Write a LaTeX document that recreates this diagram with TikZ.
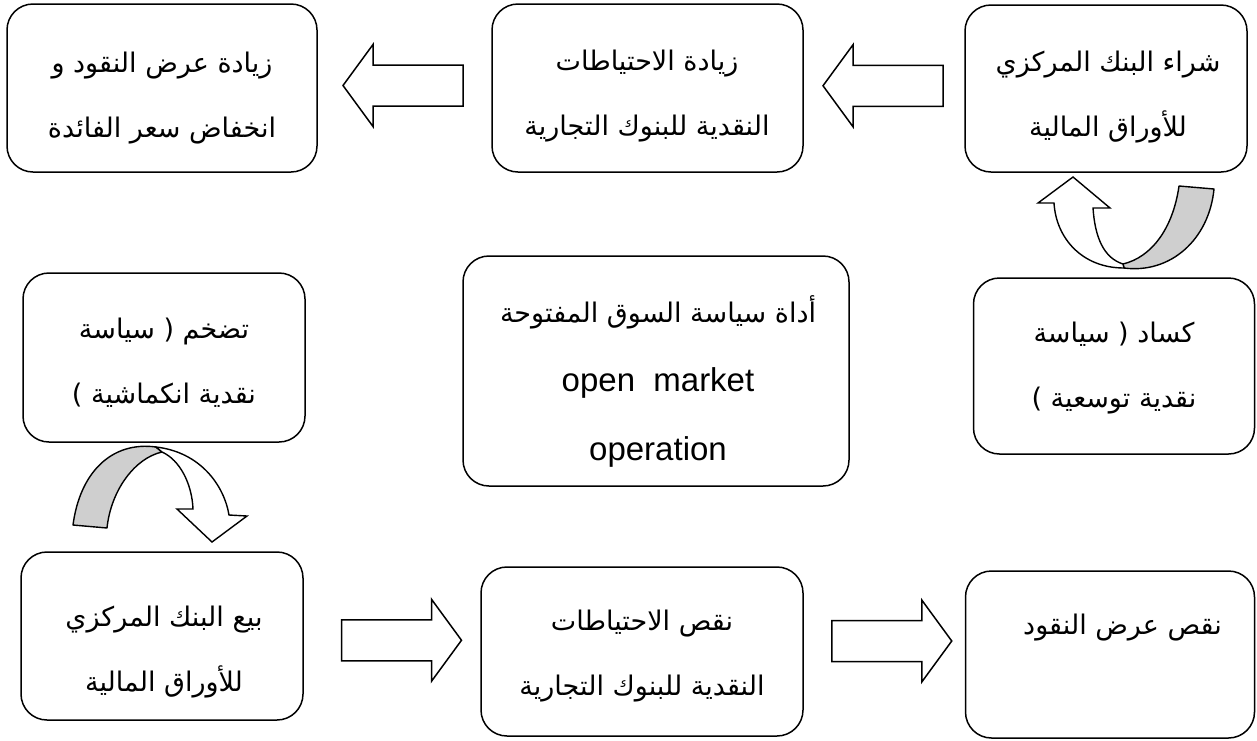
\documentclass[tikz,border=0pt]{standalone}
\usepackage{fontspec}
\setmainfont{Liberation Sans}
\newfontfamily\arabicfont[Script=Arabic]{DejaVu Sans}
\TeXXeTstate=1
\usetikzlibrary{calc}
\newcommand{\rl}[1]{\beginR #1\endR}

\tikzset{
  box/.style={draw, line width=1.5pt, rounded corners=26pt, fill=white, inner sep=0pt},
  lbl/.style={align=center, inner sep=0pt, font=\arabicfont\fontsize{27}{65}\selectfont},
  blk/.style={draw, line width=1.5pt, fill=white, line join=miter},
  backside/.style={draw, line width=1.4pt, fill=black!19, line join=round},
  frontside/.style={draw, line width=1.4pt, fill=white, line join=miter},
  blockarrow/.pic={
    \draw[blk] (-60,-20.5) -- (30,-20.5) -- (30,-41) -- (60,0)
               -- (30,41) -- (30,20.5) -- (-60,20.5) -- cycle;
  }
}

\begin{document}
\begin{tikzpicture}[x=1pt, y=-1pt]
\useasboundingbox (0,0) rectangle (1257,740);

% boxes
\node[box, minimum width=310pt, minimum height=168pt] (A) at (162,88) {};
\node[box, minimum width=311pt, minimum height=168pt] (B) at (647.5,88) {};
\node[box, minimum width=282pt, minimum height=167pt] (C) at (1106,88.5) {};
\node[box, minimum width=282pt, minimum height=169pt] (D) at (164,357.5) {};
\node[box, minimum width=386pt, minimum height=230pt] (E) at (656,371) {};
\node[box, minimum width=281pt, minimum height=176pt] (F) at (1114,366) {};
\node[box, minimum width=282pt, minimum height=168pt] (G) at (162,636) {};
\node[box, minimum width=322pt, minimum height=169pt] (H) at (642,651.5) {};
\node[box, minimum width=289pt, minimum height=167pt] (I) at (1110,654.5) {};

% labels
\node[lbl] (At) at (162,98) {\rl{زيادة عرض النقود و}\\\rl{انخفاض سعر الفائدة}};
\node[lbl] (Bt) at (647,96) {\rl{زيادة الاحتياطات}\\\rl{النقدية للبنوك التجارية}};
\node[lbl] (Ct) at (1108,97) {\rl{شراء البنك المركزي}\\\rl{للأوراق المالية}};
\node[lbl] (Dt) at (164,363) {\rl{تضخم ( سياسة}\\\rl{نقدية انكماشية )}};
\node[align=center, inner sep=0pt, font=\fontsize{33}{69}\selectfont] (Et) at (658,381)
  {{\arabicfont\fontsize{27}{69}\selectfont\rl{أداة سياسة السوق المفتوحة}}\\open~ market\\operation};
\node[lbl] (Ft) at (1114,368) {\rl{كساد ( سياسة}\\\rl{نقدية توسعية )}};
\node[lbl] (Gt) at (164,652) {\rl{بيع البنك المركزي}\\\rl{للأوراق المالية}};
\node[lbl] (Ht) at (642,656) {\rl{نقص الاحتياطات}\\\rl{النقدية للبنوك التجارية}};
\node[lbl, anchor=east] (It) at (1222,628) {\rl{نقص عرض النقود}};

% block arrows between neighbouring boxes
\coordinate (m1) at ($(A.east)!0.5!(B.west)+(-1.5,-2.5)$);
\coordinate (m2) at ($(B.east)!0.5!(C.west)+(-1,-2.5)$);
\coordinate (m3) at ($(G.east)!0.5!(H.west)+(9.5,-3.5)$);
\coordinate (m4) at ($(H.east)!0.5!(I.west)+(7.5,-12)$);
\pic[xscale=-1] at (m1) {blockarrow};
\pic[xscale=-1] at (m2) {blockarrow};
\pic at (m3) {blockarrow};
\pic at (m4) {blockarrow};

% curved arrow from the inflation box down to the selling box
\draw[backside] (73,525) .. controls (80,472) and (112,441) .. (156,447)
  -- (162,452) .. controls (135,458) and (111,490) .. (107,528) -- cycle;
\draw[frontside] (156,447) .. controls (200,452) and (224,485) .. (229,515)
  -- (247,516) -- (212,542) -- (177,509) -- (193,509)
  .. controls (192,484) and (180,460) .. (162,452) -- cycle;

% curved arrow from the recession box up to the buying box
\draw[backside] (1124,268) .. controls (1170,274) and (1209,240) .. (1214,189)
  -- (1179,186) .. controls (1173,228) and (1152,257) .. (1123,264) -- cycle;
\draw[frontside] (1124,268) .. controls (1082,268) and (1056,238) .. (1054,203)
  -- (1038,203) -- (1073,177) -- (1110,208) -- (1093,208)
  .. controls (1095,238) and (1104,258) .. (1123,264) -- cycle;
\end{tikzpicture}
\end{document}
